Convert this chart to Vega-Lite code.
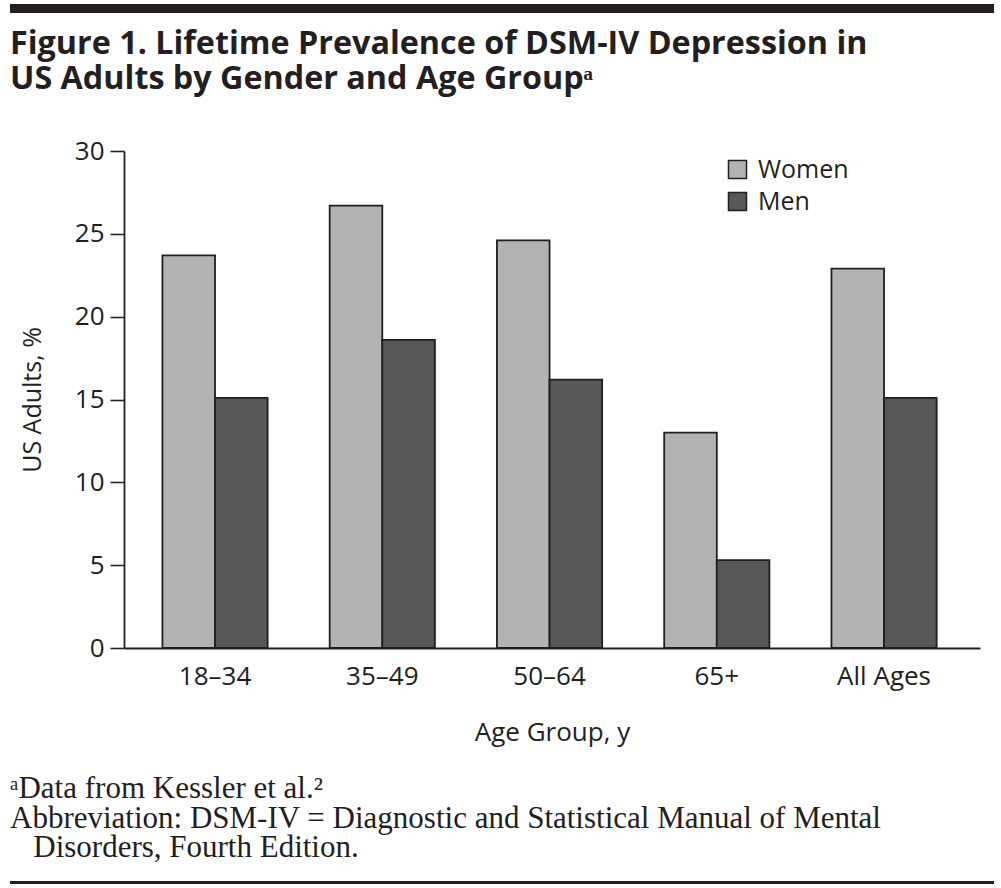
{
  "$schema": "https://vega.github.io/schema/vega-lite/v6.json",
  "background": "white",
  "padding": {"left": 5, "top": 4, "right": 8, "bottom": 3},
  "columns": 1,
  "spacing": 28,
  "config": {
    "view": {"stroke": null},
    "font": "Open Sans",
    "axis": {"labelFont": "Open Sans", "titleFont": "Open Sans", "labelColor": "#231f20", "titleColor": "#231f20", "titleFontWeight": "normal", "domainColor": "#231f20", "tickColor": "#231f20", "grid": false},
    "legend": {"labelFont": "Open Sans", "labelColor": "#231f20"}
  },
  "concat": [
    {
      "columns": 1,
      "spacing": 14,
      "concat": [
        {
          "data": {"values": [{"a": 0, "b": 1, "v": 0.5}]},
          "width": 856,
          "height": 9,
          "mark": {"type": "rule", "strokeWidth": 9, "color": "#231f20", "clip": false},
          "encoding": {
            "x": {"field": "a", "type": "quantitative", "scale": {"domain": [0, 1], "range": [-114, 870]}, "axis": null},
            "x2": {"field": "b"},
            "y": {"field": "v", "type": "quantitative", "scale": {"domain": [0, 1]}, "axis": null}
          }
        },
        {
          "title": {
            "text": ["Figure 1. Lifetime Prevalence of DSM-IV Depression in", "US Adults by Gender and Age Groupᵃ"],
            "anchor": "start",
            "frame": "group",
            "dx": -114,
            "font": "Open Sans",
            "fontSize": 32.3,
            "fontWeight": "bold",
            "lineHeight": 35,
            "color": "#231f20",
            "offset": 43
          },
          "data": {"values": [
            {"age": "18–34", "gender": "Women", "pct": 23.7},
            {"age": "18–34", "gender": "Men", "pct": 15.1},
            {"age": "35–49", "gender": "Women", "pct": 26.7},
            {"age": "35–49", "gender": "Men", "pct": 18.6},
            {"age": "50–64", "gender": "Women", "pct": 24.6},
            {"age": "50–64", "gender": "Men", "pct": 16.2},
            {"age": "65+", "gender": "Women", "pct": 13.0},
            {"age": "65+", "gender": "Men", "pct": 5.3},
            {"age": "All Ages", "gender": "Women", "pct": 22.9},
            {"age": "All Ages", "gender": "Men", "pct": 15.1}
          ]},
          "width": 856,
          "height": 497,
          "mark": {"type": "bar", "stroke": "#231f20", "strokeWidth": 1.8},
          "encoding": {
            "x": {
              "field": "age", "type": "nominal",
              "sort": ["18–34", "35–49", "50–64", "65+", "All Ages"],
              "scale": {"paddingInner": 0.371, "paddingOuter": 0.2445, "align": 0.47},
              "title": "Age Group, y",
              "axis": {"labelAngle": 0, "labelFontSize": 26, "ticks": false, "tickSize": 0, "labelPadding": 15, "domainWidth": 1.8, "titleFontSize": 26, "titlePadding": 30}
            },
            "xOffset": {"field": "gender", "type": "nominal", "sort": ["Women", "Men"], "scale": {"paddingInner": 0, "paddingOuter": 0}},
            "y": {
              "field": "pct", "type": "quantitative",
              "scale": {"domain": [0, 30], "nice": false},
              "title": "US Adults, %",
              "axis": {"values": [0, 5, 10, 15, 20, 25, 30], "labelFontSize": 26, "tickSize": 14, "tickWidth": 1.6, "labelPadding": 6, "domainWidth": 1.8, "titleFontSize": 25, "titlePadding": 29}
            },
            "color": {
              "field": "gender", "type": "nominal",
              "scale": {"domain": ["Women", "Men"], "range": ["#b3b3b3", "#575757"]},
              "legend": {"title": null, "orient": "none", "legendX": 601, "legendY": 153, "symbolType": "square", "symbolSize": 324, "symbolStrokeColor": "#231f20", "symbolStrokeWidth": 1.5, "labelFontSize": 25, "labelOffset": 8, "rowPadding": 6}
            }
          }
        }
      ]
    },
    {
      "title": {
        "text": ["ᵃData from Kessler et al.²", "Abbreviation: DSM-IV = Diagnostic and Statistical Manual of Mental", "\u200b\u00a0\u00a0\u00a0Disorders, Fourth Edition."],
        "anchor": "start",
        "frame": "group",
        "dx": -114,
        "font": "Liberation Serif",
        "fontSize": 31,
        "fontWeight": "normal",
        "lineHeight": 29.5,
        "color": "#231f20",
        "offset": 17
      },
      "data": {"values": [{"a": 0, "b": 1, "v": 0.5}]},
      "width": 856,
      "height": 3,
      "mark": {"type": "rule", "strokeWidth": 3, "color": "#231f20", "clip": false},
      "encoding": {
        "x": {"field": "a", "type": "quantitative", "scale": {"domain": [0, 1], "range": [-114, 870]}, "axis": null},
        "x2": {"field": "b"},
        "y": {"field": "v", "type": "quantitative", "scale": {"domain": [0, 1]}, "axis": null}
      }
    }
  ]
}
